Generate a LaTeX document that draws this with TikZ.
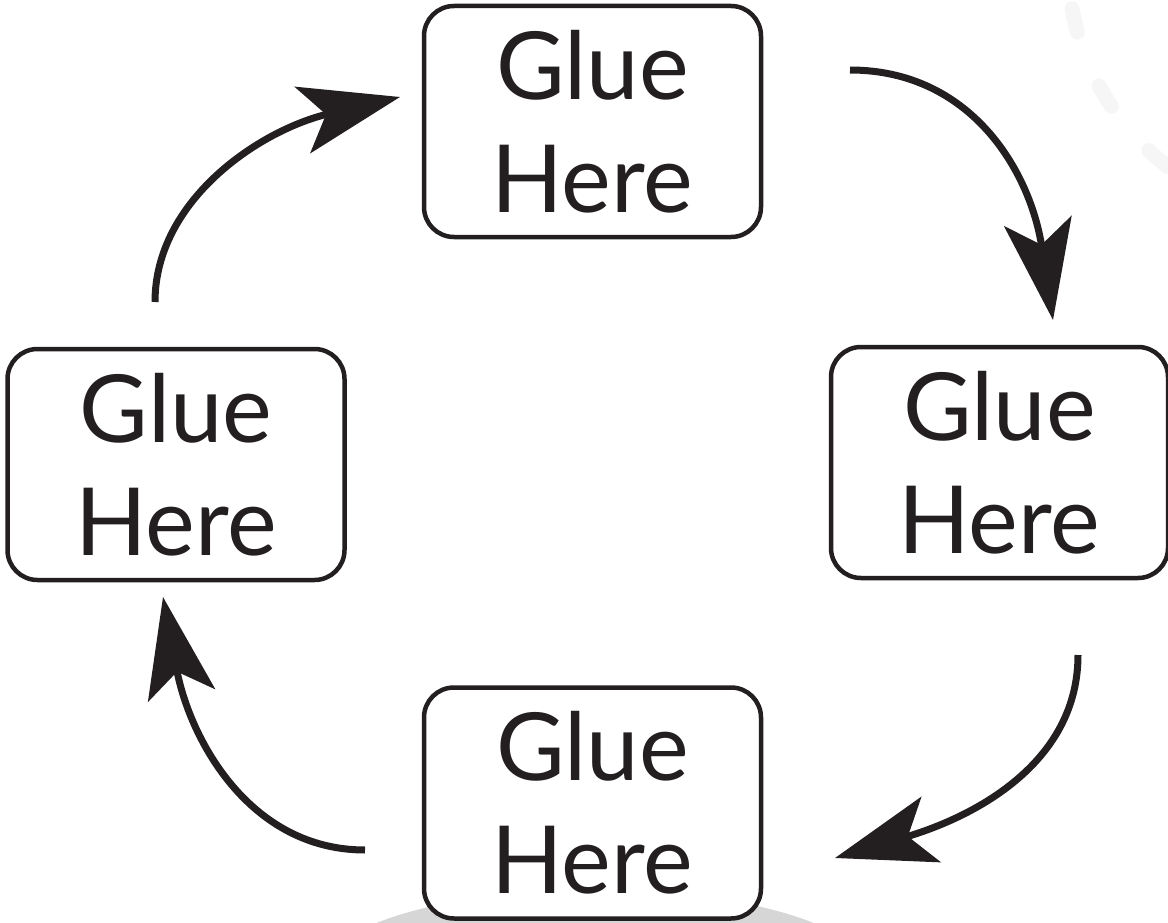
\documentclass[tikz,border=0pt]{standalone}
\usepackage{fontspec}
\setmainfont{Lato}
\usetikzlibrary{arrows.meta}
\definecolor{ink}{HTML}{231F20}
\definecolor{shadow}{HTML}{D6D6D6}
\definecolor{faint}{HTML}{F6F6F6}
\tikzset{
  gluebox/.style={draw=ink, line width=4.5pt, rounded corners=30pt, fill=white,
    minimum width=337pt, minimum height=231pt, align=center, inner sep=0pt,
    text=ink, font=\fontsize{94}{113}\selectfont},
  cyclearrow/.style={draw=ink, line width=7pt,
    -{Stealth[length=100pt, width=68pt, inset=24pt]}},
}
\begin{document}
\begin{tikzpicture}[x=1pt, y=-1pt]
  \useasboundingbox (0,0) rectangle (1168,923);
  % background decorations
  \begin{scope}
    \clip (0,0) rectangle (1168,923);
    \fill[shadow] (595,970) ellipse [x radius=270, y radius=80];
    \draw[faint, line width=15pt, line cap=round, dash pattern=on 24pt off 58pt]
      (1326,-37) ++(188:258) arc [start angle=188, end angle=118, radius=258];
  \end{scope}
  % boxes
  \node[gluebox] (top) at (592.5,121.5) {Glue\\Here};
  \node[gluebox] (right) at (999.5,462.5) {Glue\\Here};
  \node[gluebox] (bottom) at (592.5,803) {Glue\\Here};
  \node[gluebox] (left) at (176,464.5) {Glue\\Here};
  % arrow end points
  \coordinate (a1s) at (850,70);   \coordinate (a1e) at (1053,320);
  \coordinate (a2s) at (1078,655); \coordinate (a2e) at (835,858);
  \coordinate (a3s) at (365,850);  \coordinate (a3e) at (163,597);
  \coordinate (a4s) at (155,302);  \coordinate (a4e) at (400,97);
  % arrows
  \draw[cyclearrow] (a1s) .. controls (970,70) and (1030,170) .. (a1e);
  \draw[cyclearrow] (a2s) .. controls (1078,760) and (980,815) .. (a2e);
  \draw[cyclearrow] (a3s) .. controls (250,850) and (190,740) .. (a3e);
  \draw[cyclearrow] (a4s) .. controls (155,200) and (260,130) .. (a4e);
\end{tikzpicture}
\end{document}
